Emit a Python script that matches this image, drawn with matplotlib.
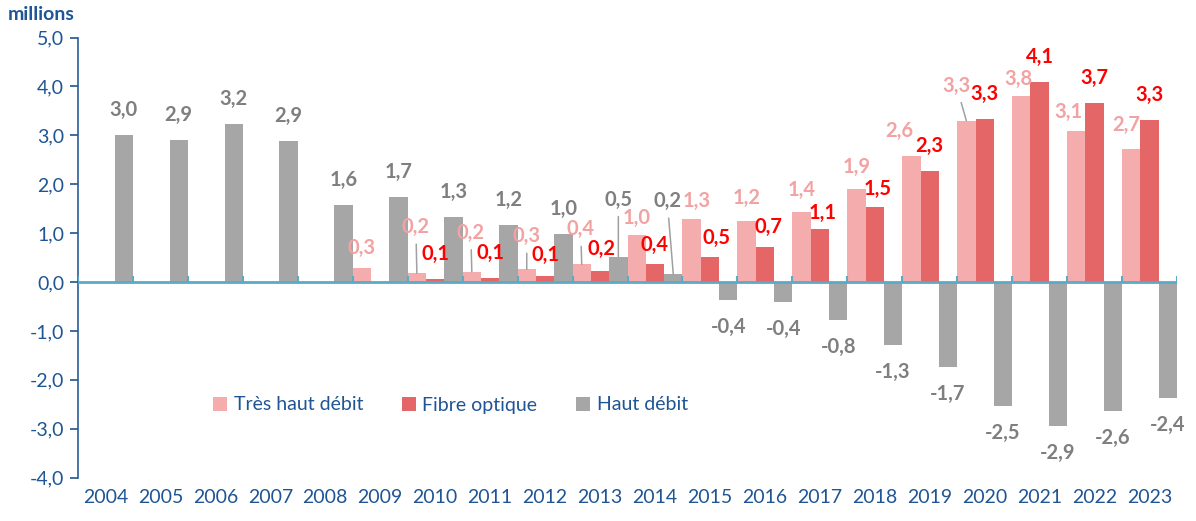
import numpy as np
import matplotlib.pyplot as plt
from matplotlib.ticker import FuncFormatter

plt.rcParams['font.family'] = ['Lato', 'DejaVu Sans']

nan = np.nan
years = ["2004", "2005", "2006", "2007", "2008", "2009", "2010", "2011", "2012", "2013",
         "2014", "2015", "2016", "2017", "2018", "2019", "2020", "2021", "2022", "2023"]
tres_haut_debit = [nan, nan, nan, nan, nan, 0.28, 0.18, 0.21, 0.26, 0.36,
                   0.96, 1.28, 1.24, 1.44, 1.90, 2.57, 3.30, 3.80, 3.08, 2.72]
fibre_optique = [nan, nan, nan, nan, nan, nan, 0.055, 0.08, 0.12, 0.23,
                 0.37, 0.51, 0.72, 1.09, 1.54, 2.28, 3.34, 4.10, 3.66, 3.32]
haut_debit = [3.01, 2.90, 3.24, 2.88, 1.58, 1.74, 1.34, 1.17, 0.98, 0.52,
              0.16, -0.36, -0.41, -0.78, -1.29, -1.73, -2.53, -2.94, -2.63, -2.38]

BLUE = '#1F5594'
series = [
    ("Très haut débit", tres_haut_debit, '#F4ACAC', '#F2A2A2'),
    ("Fibre optique", fibre_optique, '#E46666', '#FF0000'),
    ("Haut débit", haut_debit, '#A6A6A6', '#7F7F7F'),
]

# label offsets in pixels (dx, dy) from bar end, where the default does not fit
offsets = {
    ("Très haut débit", "2009"): (0, 20), ("Très haut débit", "2010"): (-1, 46),
    ("Très haut débit", "2011"): (-1, 39), ("Très haut débit", "2012"): (0, 33),
    ("Très haut débit", "2013"): (-1, 35), ("Très haut débit", "2014"): (0, 17),
    ("Très haut débit", "2015"): (5, 18), ("Très haut débit", "2016"): (0, 23),
    ("Très haut débit", "2017"): (0, 22), ("Très haut débit", "2018"): (0, 22),
    ("Très haut débit", "2019"): (-12, 25), ("Très haut débit", "2020"): (-10, 35),
    ("Très haut débit", "2021"): (-3, 17), ("Très haut débit", "2022"): (-8, 19),
    ("Très haut débit", "2023"): (-5, 24),
    ("Fibre optique", "2012"): (0, 21), ("Fibre optique", "2013"): (1, 22),
    ("Fibre optique", "2014"): (0, 19),
    ("Fibre optique", "2015"): (7, 19), ("Fibre optique", "2016"): (4, 20),
    ("Fibre optique", "2017"): (3, 16), ("Fibre optique", "2018"): (3, 18),
    ("Haut débit", "2013"): (0, 57), ("Haut débit", "2014"): (-6, 73),
}
leaders = {("Très haut débit", y) for y in ["2010", "2011", "2012", "2013", "2020"]}
leaders |= {("Haut débit", "2013"), ("Haut débit", "2014")}

fig = plt.figure(figsize=(11.96, 5.21), dpi=100)
ax = fig.add_axes([78 / 1196, 43.4 / 521, 1099 / 1196, 440 / 521])

x = np.arange(len(years))
w = 1 / 3
for i, (name, vals, color, lcolor) in enumerate(series):
    pos = x + (i - 1) * w
    ax.bar(pos, vals, width=w, color=color, label=name, zorder=2)
    for xp, v, yr in zip(pos, vals, years):
        if np.isnan(v):
            continue
        dx, dy = offsets.get((name, yr), (0, 25 if v >= 0 else -27))
        arrow = None
        if (name, yr) in leaders:
            arrow = dict(arrowstyle='-', color='#A0A0A0', lw=1.1, shrinkA=3, shrinkB=0)
        ax.annotate(f"{v:.1f}".replace('.', ','), xy=(xp, v), xytext=(dx, dy),
                    textcoords='offset pixels', ha='center', va='center',
                    fontsize=14.5, fontweight='bold', color=lcolor,
                    arrowprops=arrow, zorder=4)

ax.set_xlim(-0.5, len(years) - 0.5)
ax.set_ylim(-4, 5)
ax.set_yticks(range(-4, 6))
ax.yaxis.set_major_formatter(FuncFormatter(lambda v, _: f"{v:.1f}".replace('.', ',')))
ax.tick_params(axis='y', colors=BLUE, labelsize=14, length=6, width=1.2, pad=4)
ax.set_xticks(x)
ax.set_xticklabels(years)
ax.tick_params(axis='x', colors=BLUE, labelsize=14, length=0, pad=8)

for s in ['top', 'right', 'bottom']:
    ax.spines[s].set_visible(False)
ax.spines['left'].set_color('#2A5C96')
ax.spines['left'].set_linewidth(1.2)

ax.axhline(0, color='#5AAAC8', lw=2, zorder=3)
ax.vlines(np.arange(len(years) + 1) - 0.5, 0, 0.13, color='#5AAAC8', lw=1.5, zorder=3)

ax.legend(loc='center', bbox_to_anchor=(0.339, 0.165), ncol=3, frameon=False,
          fontsize=14, labelcolor=BLUE, handlelength=0.7, handleheight=0.7,
          handletextpad=0.35, columnspacing=2.0)

fig.text(8 / 1196, 1 - 15 / 521, "millions", fontsize=14, fontweight='bold',
         color=BLUE, ha='left', va='center')

fig.savefig('out.png', dpi=100)
